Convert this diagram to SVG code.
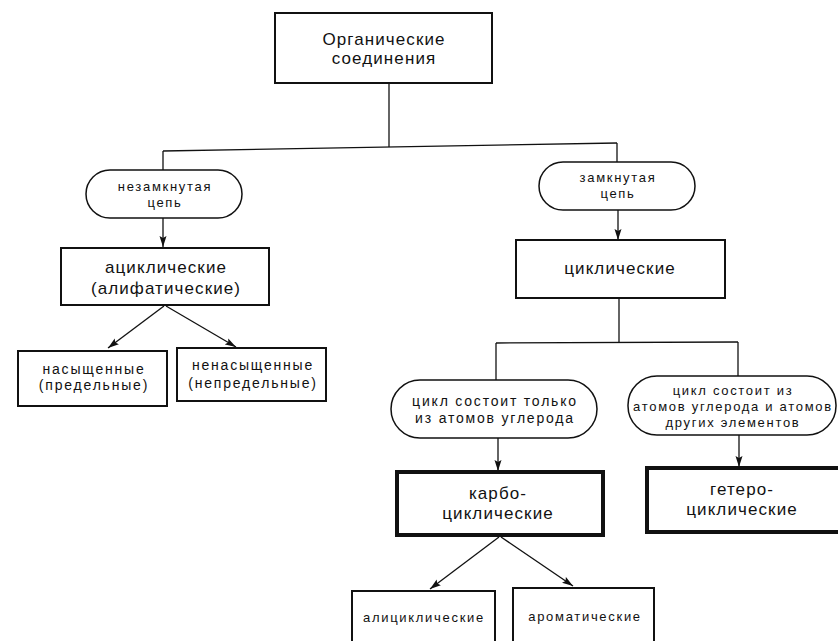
<svg xmlns="http://www.w3.org/2000/svg" width="838" height="641" viewBox="0 0 838 641">
<defs>
<style>
.t{font-family:"Liberation Sans",Arial,sans-serif;fill:#111;text-anchor:middle}
.big{font-size:17px;letter-spacing:1.1px}
.mid{font-size:14px;letter-spacing:1.8px}
.sm{font-size:13px;letter-spacing:1.7px}
.box{fill:#fff;stroke:#111;stroke-width:2}
.thick{fill:#fff;stroke:#111;stroke-width:4}
.pill{fill:#fff;stroke:#111;stroke-width:1.5}
.ln{fill:none;stroke:#111;stroke-width:1.3}
</style>
<marker id="ah" markerUnits="userSpaceOnUse" markerWidth="12" markerHeight="8" refX="11" refY="4" orient="auto">
<path d="M0,0.5 L11,4 L0,7.5 L2,4 z" fill="#111"/>
</marker>
</defs>
<rect width="838" height="641" fill="#fff"/>

<g id="connectors">
<path class="ln" d="M389,84 V147"/>
<path class="ln" d="M163,151 L617,143"/>
<path class="ln" d="M163,151 V170"/>
<path class="ln" d="M617,143 V162"/>
<path class="ln" d="M163,218 V247" marker-end="url(#ah)"/>
<path class="ln" d="M618,210 V240" marker-end="url(#ah)"/>
<path class="ln" d="M164,306 L108,348" marker-end="url(#ah)"/>
<path class="ln" d="M166,306 L236,347" marker-end="url(#ah)"/>
<path class="ln" d="M619,299 V343"/>
<path class="ln" d="M496,343 L738,342"/>
<path class="ln" d="M496,343 V381"/>
<path class="ln" d="M738,342 V376"/>
<path class="ln" d="M498,438 V471" marker-end="url(#ah)"/>
<path class="ln" d="M739,435 V467" marker-end="url(#ah)"/>
<path class="ln" d="M499,537 L430,589" marker-end="url(#ah)"/>
<path class="ln" d="M501,537 L573,586" marker-end="url(#ah)"/>
</g>

<g id="organic">
<rect class="box" x="275" y="13" width="217" height="70"/>
<text class="t big" x="384" y="45">Органические</text>
<text class="t big" x="384" y="64">соединения</text>
</g>

<g id="open-chain">
<rect class="pill" x="86" y="170" width="156" height="48" rx="24"/>
<text class="t sm" x="165" y="191">незамкнутая</text>
<text class="t sm" x="165" y="207">цепь</text>
</g>

<g id="closed-chain">
<rect class="pill" x="539" y="162" width="156" height="48" rx="24"/>
<text class="t sm" x="618" y="182">замкнутая</text>
<text class="t sm" x="618" y="198">цепь</text>
</g>

<g id="acyclic">
<rect class="box" x="61" y="248" width="208" height="57"/>
<text class="t big" x="166" y="273">ациклические</text>
<text class="t big" x="166" y="294">(алифатические)</text>
</g>

<g id="cyclic">
<rect class="box" x="516" y="240" width="209" height="58" stroke-width="2.5"/>
<text class="t big" x="620" y="274">циклические</text>
</g>

<g id="saturated">
<rect class="box" x="18" y="351" width="149" height="55"/>
<text class="t mid" x="94" y="374">насыщенные</text>
<text class="t mid" x="94" y="390">(предельные)</text>
</g>

<g id="unsaturated">
<rect class="box" x="177" y="348" width="149" height="53"/>
<text class="t mid" x="253" y="370">ненасыщенные</text>
<text class="t mid" x="253" y="388">(непредельные)</text>
</g>

<g id="carbon-only">
<rect class="pill" x="391" y="380" width="206" height="58" rx="29"/>
<text class="t mid" x="495" y="406" letter-spacing="1.4">цикл состоит только</text>
<text class="t mid" x="495" y="423" letter-spacing="1.4">из атомов углерода</text>
</g>

<g id="carbon-and-others">
<rect class="pill" x="628" y="376" width="208" height="59" rx="29"/>
<text class="t sm" x="733" y="395">цикл состоит из</text>
<text class="t sm" x="733" y="411" letter-spacing="1.6">атомов углерода и атомов</text>
<text class="t sm" x="733" y="427">других  элементов</text>
</g>

<g id="carbocyclic">
<rect class="thick" x="397" y="472" width="206" height="63"/>
<text class="t big" x="498" y="499">карбо-</text>
<text class="t big" x="498" y="519">циклические</text>
</g>

<g id="heterocyclic">
<rect class="thick" x="647" y="468" width="200" height="64"/>
<text class="t big" x="742" y="495">гетеро-</text>
<text class="t big" x="742" y="515">циклические</text>
</g>

<g id="alicyclic">
<rect class="box" x="352" y="591" width="143" height="60"/>
<text class="t sm" x="424" y="622" letter-spacing="1.8">алициклические</text>
</g>

<g id="aromatic">
<rect class="box" x="513" y="588" width="141" height="63"/>
<text class="t sm" x="585" y="621" letter-spacing="1.8">ароматические</text>
</g>
</svg>
